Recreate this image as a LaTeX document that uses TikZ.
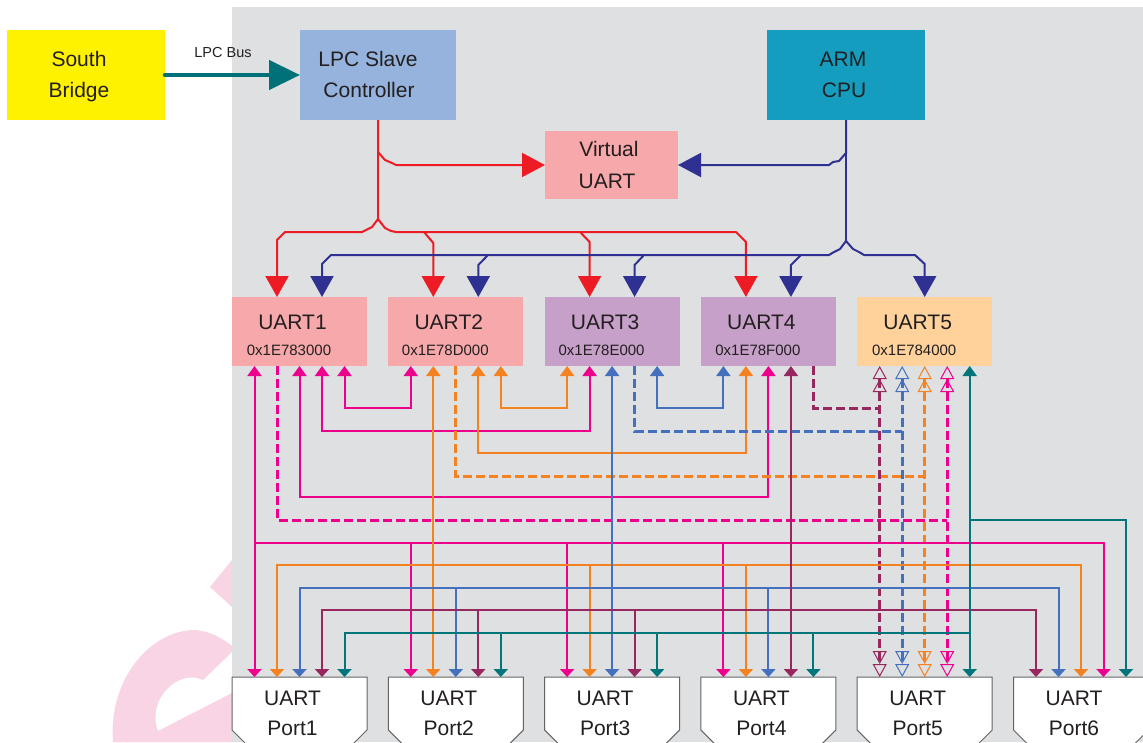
\documentclass[tikz,border=0pt]{standalone}
\usepackage{fontspec}
\setmainfont{Liberation Sans}
\usetikzlibrary{arrows.meta,calc}

\definecolor{panel}{RGB}{223,224,226}
\definecolor{ink}{RGB}{35,31,32}
\definecolor{sbyel}{RGB}{255,242,0}
\definecolor{lpcblue}{RGB}{149,179,220}
\definecolor{armblue}{RGB}{20,157,190}
\definecolor{uapink}{RGB}{246,168,170}
\definecolor{ualilac}{RGB}{198,160,201}
\definecolor{uapeach}{RGB}{255,209,155}
\definecolor{lpcteal}{RGB}{0,113,120}
\definecolor{wred}{RGB}{237,28,36}
\definecolor{wnavy}{RGB}{46,49,146}
\definecolor{wmag}{RGB}{236,0,140}
\definecolor{worg}{RGB}{245,130,32}
\definecolor{wblue}{RGB}{68,112,190}
\definecolor{wplum}{RGB}{150,40,95}
\definecolor{wteal}{RGB}{0,118,122}
\definecolor{portline}{RGB}{100,100,100}
\definecolor{wmark}{RGB}{248,212,228}

\tikzset{
  UpTip/.tip={Triangle[length=10pt,width=14pt]},
  PortTip/.tip={Triangle[length=8pt,width=14pt]},
  HolPair/.tip={Triangle[open,length=13pt,width=14pt,line width=1pt] Triangle[open,length=13pt,width=14pt,line width=1pt]},
  BigTip/.tip={Triangle[length=21pt,width=23pt]},
  VuTip/.tip={Triangle[length=23pt,width=24pt]},
  blk/.style={rectangle, inner sep=0pt, outer sep=0pt},
  ubox/.style={blk, minimum width=135pt, minimum height=69pt},
  pbox/.style={blk, minimum width=135pt, minimum height=67pt},
  lbl/.style={anchor=base, inner sep=0pt, text=ink, font=\fontsize{21}{25}\selectfont},
  addr/.style={anchor=base, inner sep=0pt, text=ink, font=\fontsize{15}{18}\selectfont},
  wire/.style={line width=2pt},
  dwire/.style={line width=3pt, dash pattern=on 9pt off 4pt},
  outline/.style={draw=portline, line width=1pt, fill=white},
}

\begin{document}
\begin{tikzpicture}[x=1pt,y=-1pt]
\useasboundingbox (0,0) rectangle (1143,742);
\clip (0,0) rectangle (1143,742);

% faint mark on the left margin
\fill[wmark] (210,587) -- (232,560) -- (232,607) -- cycle;
\fill[wmark] (113,742) .. controls (108,680) and (150,630) .. (195,630)
  .. controls (210,631) and (222,638) .. (232,646) -- (232,652) -- (203,680)
  .. controls (178,668) and (146,700) .. (158,731) -- (232,693) -- (232,742) -- cycle;

% grey board
\fill[panel] (232,7) rectangle (1143,742);

% top blocks
\node[blk, fill=sbyel, minimum width=158pt, minimum height=90pt] (sb) at (86,75) {};
\node[blk, fill=lpcblue, minimum width=156pt, minimum height=90pt] (lpc) at (378,75) {};
\node[blk, fill=armblue, minimum width=158pt, minimum height=90pt] (arm) at (846,75) {};
\node[blk, fill=uapink, minimum width=133pt, minimum height=68pt] (vu) at (611.5,165) {};

\node[lbl] (sb1) at (79,66.5) {South};
\node[lbl] (sb2) at (79,97) {Bridge};
\node[lbl] (lpc1) at (368,66) {LPC Slave};
\node[lbl] (lpc2) at (369,97) {Controller};
\node[lbl] (arm1) at (843,66) {ARM};
\node[lbl] (arm2) at (844,97) {CPU};
\node[lbl] (vu1) at (609,156) {Virtual};
\node[lbl] (vu2) at (607,188) {UART};

% UART controllers
\node[ubox, fill=uapink]  (u1) at (299.5,331.5) {};
\node[ubox, fill=uapink]  (u2) at (455.8,331.5) {};
\node[ubox, fill=ualilac] (u3) at (612.1,331.5) {};
\node[ubox, fill=ualilac] (u4) at (768.4,331.5) {};
\node[ubox, fill=uapeach] (u5) at (924.7,331.5) {};

\foreach \k/\t/\a in {1/UART1/0x1E783000, 2/UART2/0x1E78D000, 3/UART3/0x1E78E000,
                      4/UART4/0x1E78F000, 5/UART5/0x1E784000} {
  \node[lbl]  (u\k n) at ($(u\k.north west)+(60.5,32)$) {\t};
  \node[addr] (u\k a) at ($(u\k.north west)+(57,58)$) {\a};
}

% UART ports
\foreach \k/\cx in {1/299.5, 2/455.8, 3/612.1, 4/768.4, 5/924.7, 6/1081} {
  \node[pbox] (p\k) at (\cx,710.5) {};
  \draw[outline] (p\k.north west) -- (p\k.north east) -- ([yshift=14pt]p\k.south east)
    -- ([xshift=-14pt]p\k.south east) -- ([xshift=14pt]p\k.south west)
    -- ([yshift=14pt]p\k.south west) -- cycle;
  \node[lbl] (p\k n) at ($(p\k.north west)+(60.5,28)$) {UART};
  \node[lbl] (p\k m) at ($(p\k.north west)+(60.5,58)$) {Port\k};
}

% pin positions
\foreach \k in {1,...,5} {
  \foreach \i in {1,...,5} {
    \coordinate (u\k b\i) at ($(u\k.south west)+(22.5*\i,0)$);
    \coordinate (u\k t\i) at ($(u\k.north west)+(22.5*\i,0)$);
  }
}
\foreach \k in {1,...,6} {
  \foreach \i in {1,...,5} {
    \coordinate (p\k t\i) at ($(p\k.north west)+(22.5*\i,0)$);
  }
}

% routing levels
\coordinate (lvA) at (0,408);
\coordinate (lvB) at (0,431);
\coordinate (lvBB) at (0,453);
\coordinate (lvC) at (0,476);
\coordinate (lvE) at (0,497);
\coordinate (lvD) at (0,520);
\coordinate (busM) at (0,543);
\coordinate (busO) at (0,565);
\coordinate (busB) at (0,588);
\coordinate (busP) at (0,610);
\coordinate (busT) at (0,633);
\coordinate (rfork) at (378,219);
\coordinate (nfork) at (846,241);

% LPC bus
\draw[lpcteal, line width=4.5pt, line cap=round, -{Triangle[length=31pt,width=29pt]}] (sb.east) -- (lpc.west);
\node[anchor=base, inner sep=0pt, text=ink, font=\fontsize{14.5}{16}\selectfont] (lpcbus) at (223,57) {LPC Bus};

% LPC slave fan-out
\draw[wred, wire, -VuTip] (lpc.south) -- (378,152) -- (385,160) -- (392,163) -- (396,165) -- (vu.west);
\draw[wred, wire] (lpc.south) -- (rfork);
\draw[wred, wire, -BigTip] (rfork) -- (372,227) -- (366,230) -- (362,232) -- (285,232) -- (277,240) -- (u1t2);
\draw[wred, wire, -BigTip] (rfork) -- (385,228) -- (391,231) -- (396,232) -- (736,232) -- (745.9,242) -- (u4t2);
\draw[wred, wire, -BigTip] (424,232) -- (433.3,243) -- (u2t2);
\draw[wred, wire, -BigTip] (580,232) -- (589.6,242) -- (u3t2);

% ARM fan-out
\draw[wnavy, wire, -VuTip] (arm.south) -- (846,153) -- (839,161) -- (833,162) -- (829,165) -- (vu.east);
\draw[wnavy, wire] (arm.south) -- (nfork);
\draw[wnavy, wire, -BigTip] (nfork) -- (840,249) -- (834,252) -- (829,255) -- (331,255) -- (322,264) -- (u1t4);
\draw[wnavy, wire, -BigTip] (488,255) -- (478.3,265) -- (u2t4);
\draw[wnavy, wire, -BigTip] (644,255) -- (634.6,265) -- (u3t4);
\draw[wnavy, wire, -BigTip] (801,255) -- (790.9,265) -- (u4t4);
\draw[wnavy, wire, -BigTip] (nfork) -- (853,249) -- (859,252) -- (864,255) -- (915,255) -- (924.7,264) -- (u5t3);

% UART1
\draw[wmag, dwire] (u1b2) |- (u5b4 |- lvD);
\draw[wmag, wire, UpTip-UpTip] (u1b3) -- (u1b3 |- lvE) -| (u4b3);
\draw[wmag, wire, UpTip-UpTip] (u1b4) -- (u1b4 |- lvB) -| (u3b2);
\draw[wmag, wire, UpTip-UpTip] (u1b5) -- (u1b5 |- lvA) -| (u2b1);
% UART2
\draw[worg, dwire] (u2b3) |- (u5b3 |- lvC);
\draw[worg, wire, UpTip-UpTip] (u2b4) -- (u2b4 |- lvBB) -| (u4b2);
\draw[worg, wire, UpTip-UpTip] (u2b5) -- (u2b5 |- lvA) -| (u3b1);
% UART3
\draw[wblue, dwire] (u3b4) |- (u5b2 |- lvB);
\draw[wblue, wire, UpTip-UpTip] (u3b5) -- (u3b5 |- lvA) -| (u4b1);
% UART4
\draw[wplum, dwire] (u4b5) |- (u5b1 |- lvA);

% UART5 pass-through to Port5
\foreach \i/\c in {1/wplum, 2/wblue, 3/worg, 4/wmag}
  \draw[\c, dwire, HolPair-HolPair] (u5b\i) -- (p5t\i);

% port buses
\draw[wmag, wire, UpTip-PortTip] (u1b1) -- (p1t1);
\draw[wmag, wire, -PortTip] (p1t1 |- busM) -| (p6t4);
\foreach \k in {2,3,4} \draw[wmag, wire, -PortTip] (p\k t1 |- busM) -- (p\k t1);

\draw[worg, wire, UpTip-PortTip] (u2b2) -- (p2t2);
\draw[worg, wire, PortTip-PortTip] (p1t2) |- (p6t3 |- busO) -- (p6t3);
\foreach \k in {3,4} \draw[worg, wire, -PortTip] (p\k t2 |- busO) -- (p\k t2);

\draw[wblue, wire, UpTip-PortTip] (u3b3) -- (p3t3);
\draw[wblue, wire, PortTip-PortTip] (p1t3) |- (p6t2 |- busB) -- (p6t2);
\foreach \k in {2,4} \draw[wblue, wire, -PortTip] (p\k t3 |- busB) -- (p\k t3);

\draw[wplum, wire, UpTip-PortTip] (u4b4) -- (p4t4);
\draw[wplum, wire, PortTip-PortTip] (p1t4) |- (p6t1 |- busP) -- (p6t1);
\foreach \k in {2,3} \draw[wplum, wire, -PortTip] (p\k t4 |- busP) -- (p\k t4);

\draw[wteal, wire, UpTip-PortTip] (u5b5) -- (p5t5);
\draw[wteal, wire, -PortTip] (u5b5 |- lvD) -| (p6t5);
\draw[wteal, wire, PortTip-] (p1t5) |- (p5t5 |- busT);
\foreach \k in {2,3,4} \draw[wteal, wire, -PortTip] (p\k t5 |- busT) -- (p\k t5);
\end{tikzpicture}
\end{document}
